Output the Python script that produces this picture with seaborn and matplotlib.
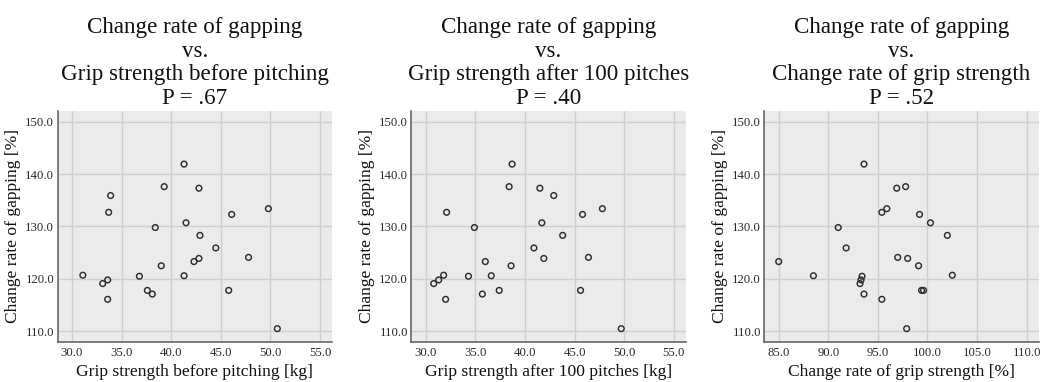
import numpy as np
import pandas as pd
import matplotlib
matplotlib.use("Agg")
import matplotlib.pyplot as plt
import seaborn as sns
from matplotlib.ticker import FormatStrFormatter

# ---- data ----
gap_change = [141.9, 137.6, 137.3, 135.9, 133.4, 132.7, 132.3, 130.7, 129.8, 128.3,
              125.9, 124.1, 123.9, 123.3, 122.5, 120.7, 120.6, 120.5, 119.8, 119.1,
              117.8, 117.8, 117.1, 116.1, 110.5]
grip_before = [41.3, 39.3, 42.8, 33.9, 49.8, 33.7, 46.1, 41.5, 38.4, 42.9,
               44.5, 47.8, 42.8, 42.3, 39.0, 31.1, 41.3, 36.8, 33.6, 33.1,
               37.6, 45.8, 38.1, 33.6, 50.7]
grip_after = [38.7, 38.4, 41.5, 42.9, 47.8, 32.1, 45.8, 41.7, 34.9, 43.8,
              40.9, 46.4, 41.9, 36.0, 38.6, 31.8, 36.6, 34.3, 31.3, 30.8,
              37.4, 45.6, 35.7, 32.0, 49.7]
grip_change = [93.6, 97.8, 96.9, np.nan, 95.9, 95.4, 99.2, 100.3, 91.0, 102.0,
               91.8, 97.0, 98.0, 85.0, 99.1, 102.5, 88.5, 93.4, 93.3, 93.2,
               99.4, 99.6, 93.6, 95.4, 97.9]

titles = [
    "Change rate of gapping\nvs.\nGrip strength before pitching\nP = .67",
    "Change rate of gapping\nvs.\nGrip strength after 100 pitches\nP = .40",
    "Change rate of gapping\nvs.\nChange rate of grip strength\nP = .52",
]
xlabels = ["Grip strength before pitching [kg]",
           "Grip strength after 100 pitches [kg]",
           "Change rate of grip strength [%]"]
ylabel = "Change rate of gapping [%]"
xticks_list = [[30, 35, 40, 45, 50, 55], [30, 35, 40, 45, 50, 55],
               [85, 90, 95, 100, 105, 110]]
yticks = [110, 120, 130, 140, 150]
xlims = [(28.55, 56.2), (28.55, 56.2), (83.55, 111.2)]
ylim = (107.9, 152.1)

df = pd.DataFrame({"gap": gap_change, "before": grip_before,
                   "after": grip_after, "change": grip_change})
xcols = ["before", "after", "change"]

sns.set_style("white")
plt.rcParams["font.family"] = ["Liberation Serif", "DejaVu Serif"]

fig = plt.figure(figsize=(10.41, 3.82), dpi=100)
lefts = [0.0553, 0.3952, 0.7342]
for i in range(3):
    ax = fig.add_axes([lefts[i], 0.104, 0.2635, 0.6063])
    ax.set_facecolor("#EBEBEB")
    sns.scatterplot(data=df, x=xcols[i], y="gap", ax=ax, s=17,
                    facecolor="none", edgecolor="#2E2E2E", linewidth=1.05,
                    zorder=3)
    ax.set_xlim(*xlims[i])
    ax.set_ylim(*ylim)
    ax.set_xticks(xticks_list[i])
    ax.set_yticks(yticks)
    ax.xaxis.set_major_formatter(FormatStrFormatter("%.1f"))
    ax.yaxis.set_major_formatter(FormatStrFormatter("%.1f"))
    ax.grid(True, color="#CFCFCF", linewidth=1.0)
    ax.set_axisbelow(True)
    ax.tick_params(axis="x", length=0, pad=3.5, labelsize=9.2, colors="#2A2A2A")
    ax.tick_params(axis="y", length=0, pad=2.5, labelsize=9.2, colors="#2A2A2A")
    for side in ["top", "right"]:
        ax.spines[side].set_visible(False)
    for side in ["left", "bottom"]:
        ax.spines[side].set_color("#666666")
        ax.spines[side].set_linewidth(1.2)
    ax.set_xlabel(xlabels[i], fontsize=12.6, color="#111111", labelpad=3.5)
    ax.set_ylabel(ylabel, fontsize=12.6, color="#111111", labelpad=3)
    ax.set_title(titles[i], fontsize=16.6, linespacing=1.16, pad=5,
                 color="#111111")

fig.savefig("out.png", dpi=100)
